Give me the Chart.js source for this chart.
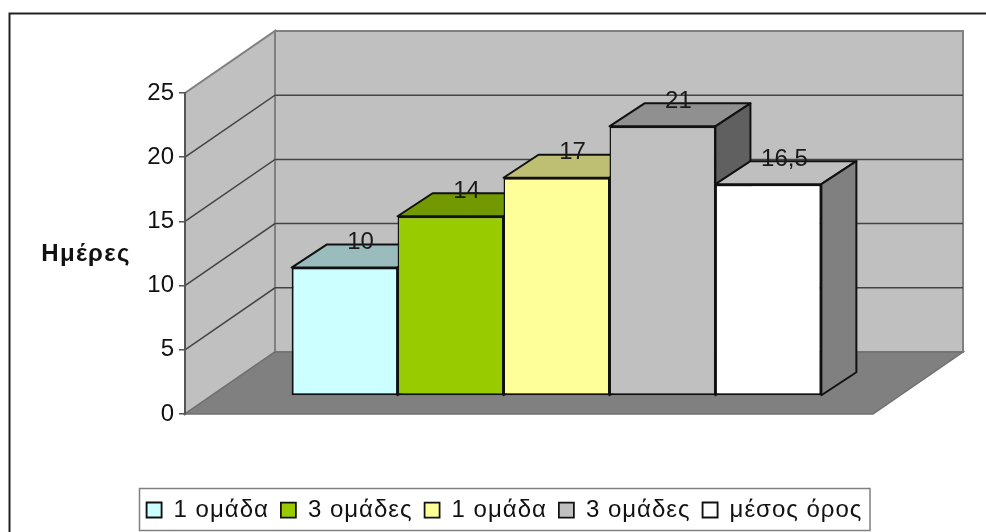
<!DOCTYPE html>
<html lang="el"><head><meta charset="utf-8">
<style>html,body{margin:0;padding:0;background:#fff;overflow:hidden}canvas{display:block}</style>
<script src="https://cdn.jsdelivr.net/npm/chart.js@4"></script></head>
<body><canvas id="c" width="986" height="532"></canvas>
<script>
const categories = [''];
const seriesNames = ['1 ομάδα', '3 ομάδες', '1 ομάδα', '3 ομάδες', 'μέσος όρος'];
const seriesValues = [10, 14, 17, 21, 16.5];
const seriesFront = ['#CCFFFF', '#99CC00', '#FFFF99', '#C0C0C0', '#FFFFFF'];
const seriesTop = ['#9ABCBC', '#739900', '#BFBF73', '#909090', '#BFBFBF'];
const seriesSide = ['#668080', '#4D6600', '#808050', '#606060', '#808080'];
const axisTitle = 'Ημέρες';
const yMax = 25, yStep = 5;

const WALL = {dx: 90, dy: -62};      // depth of the 3D box
const BAR = {ox: 27.5, oy: -18, dx: 35, dy: -23}; // bar placement within the box
const fontName = '"Liberation Sans", Arial, sans-serif';

function withSpacing(lg, name) {
  const orig = lg[name].bind(lg);
  lg[name] = function (...args) {
    lg.ctx.letterSpacing = '1px';
    const out = orig(...args);
    lg.ctx.letterSpacing = '0px';
    return out;
  };
}

const scene3d = {
  id: 'scene3d',
  beforeLayout(chart) {
    const lg = chart.legend;
    if (lg && !lg.$spaced) {
      lg.$spaced = true;
      withSpacing(lg, 'fit');
      withSpacing(lg, 'draw');
    }
  },
  afterLayout(chart) {
    const lg = chart.legend;
    const shift = 504.5 - (lg.left + lg.right) / 2;
    lg.left += shift; lg.right += shift;
  },
  beforeDraw(chart) {
    const {ctx, chartArea: a, scales: {y}} = chart;
    const y0 = y.getPixelForValue(0), yT = y.getPixelForValue(yMax);
    ctx.save();
    // page frame
    ctx.strokeStyle = '#222'; ctx.lineWidth = 2;
    ctx.beginPath(); ctx.moveTo(9.5, 532); ctx.lineTo(9.5, 13.5); ctx.lineTo(986, 13.5); ctx.stroke();
    // side and back walls
    ctx.fillStyle = '#C0C0C0'; ctx.strokeStyle = '#808080'; ctx.lineWidth = 2; ctx.lineJoin = 'miter';
    ctx.beginPath();
    ctx.moveTo(a.left, y0); ctx.lineTo(a.left, yT); ctx.lineTo(a.left + WALL.dx, yT + WALL.dy);
    ctx.lineTo(a.left + WALL.dx, y0 + WALL.dy); ctx.closePath(); ctx.fill(); ctx.stroke();
    ctx.beginPath();
    ctx.rect(a.left + WALL.dx, yT + WALL.dy, a.right - a.left, y0 - yT); ctx.fill(); ctx.stroke();
    // floor
    ctx.fillStyle = '#808080'; ctx.strokeStyle = '#707070'; ctx.lineWidth = 1.5;
    ctx.beginPath();
    ctx.moveTo(a.left, y0); ctx.lineTo(a.right, y0);
    ctx.lineTo(a.right + WALL.dx, y0 + WALL.dy); ctx.lineTo(a.left + WALL.dx, y0 + WALL.dy);
    ctx.closePath(); ctx.fill(); ctx.stroke();
    // gridlines on the walls
    ctx.strokeStyle = '#444'; ctx.lineWidth = 1.5;
    y.ticks.forEach(t => {
      if (t.value === 0 || t.value === yMax) return;
      const p = y.getPixelForValue(t.value);
      ctx.beginPath();
      ctx.moveTo(a.left, p); ctx.lineTo(a.left + WALL.dx, p + WALL.dy);
      ctx.lineTo(a.right + WALL.dx, p + WALL.dy); ctx.stroke();
    });
    ctx.restore();
  },
  beforeDatasetsDraw(chart) {
    const {ctx} = chart;
    ctx.save();
    ctx.translate(BAR.ox, BAR.oy);
    chart.data.datasets.forEach((ds, i) => {
      const el = chart.getDatasetMeta(i).data[0];
      const {x, y, base, width} = el.getProps(['x', 'y', 'base', 'width']);
      const l = x - width / 2, r = x + width / 2;
      ctx.strokeStyle = '#111'; ctx.lineWidth = 2; ctx.lineJoin = 'round';
      ctx.fillStyle = seriesTop[i];
      ctx.beginPath(); ctx.moveTo(l, y); ctx.lineTo(l + BAR.dx, y + BAR.dy);
      ctx.lineTo(r + BAR.dx, y + BAR.dy); ctx.lineTo(r, y); ctx.closePath(); ctx.fill(); ctx.stroke();
      ctx.fillStyle = seriesSide[i];
      ctx.beginPath(); ctx.moveTo(r, y); ctx.lineTo(r + BAR.dx, y + BAR.dy);
      ctx.lineTo(r + BAR.dx, base + BAR.dy); ctx.lineTo(r, base); ctx.closePath(); ctx.fill(); ctx.stroke();
      el.draw(ctx);
    });
    ctx.restore();
    return false;
  },
  afterDraw(chart) {
    const {ctx, chartArea: a} = chart;
    ctx.save();
    // value labels
    ctx.font = '24px ' + fontName; ctx.fillStyle = '#1a1a1a';
    ctx.textAlign = 'center'; ctx.textBaseline = 'middle';
    chart.data.datasets.forEach((ds, i) => {
      const el = chart.getDatasetMeta(i).data[0];
      ctx.fillText(String(ds.data[0]).replace('.', ','), el.x + BAR.ox + 16, el.y + BAR.oy - 25);
    });
    // axis title
    ctx.letterSpacing = '1.3px';
    ctx.font = 'bold 24px ' + fontName; ctx.fillStyle = '#111';
    ctx.fillText(axisTitle, 86, (a.top + a.bottom) / 2 + 1);
    ctx.letterSpacing = '0px';
    // legend frame
    ctx.strokeStyle = '#808080'; ctx.lineWidth = 1.5;
    ctx.strokeRect(139.5, 488.5, 730.5, 42);
    ctx.restore();
  }
};

new Chart(document.getElementById('c'), {
  type: 'bar',
  plugins: [scene3d],
  data: {
    labels: categories,
    datasets: seriesNames.map((name, i) => ({
      label: name,
      data: [seriesValues[i]],
      backgroundColor: seriesFront[i],
      borderColor: '#111',
      borderWidth: {top: 2, bottom: 2, left: i === 0 ? 2 : 1.5, right: i === 4 ? 2 : 1.5},
      borderSkipped: false
    }))
  },
  options: {
    responsive: false,
    animation: false,
    layout: {padding: {top: 93, right: 113, left: 0, bottom: 0}},
    datasets: {bar: {categoryPercentage: 0.77, barPercentage: 1}},
    scales: {
      x: {
        ticks: {display: false}, grid: {display: false}, border: {display: false},
        afterFit(s) { s.height = 72; }
      },
      y: {
        min: 0, max: yMax,
        afterFit(s) { s.width = 185; },
        ticks: {stepSize: yStep, color: '#111', padding: 5, font: {family: fontName, size: 24}},
        grid: {drawOnChartArea: false, tickLength: 6, tickColor: '#555', lineWidth: 1.5},
        border: {display: true, color: '#555', width: 2}
      }
    },
    plugins: {
      tooltip: {enabled: false},
      legend: {
        position: 'bottom',
        labels: {
          color: '#111', boxWidth: 15, boxHeight: 15, padding: 12,
          font: {family: fontName, size: 24}
        }
      }
    }
  }
});
</script></body></html>
